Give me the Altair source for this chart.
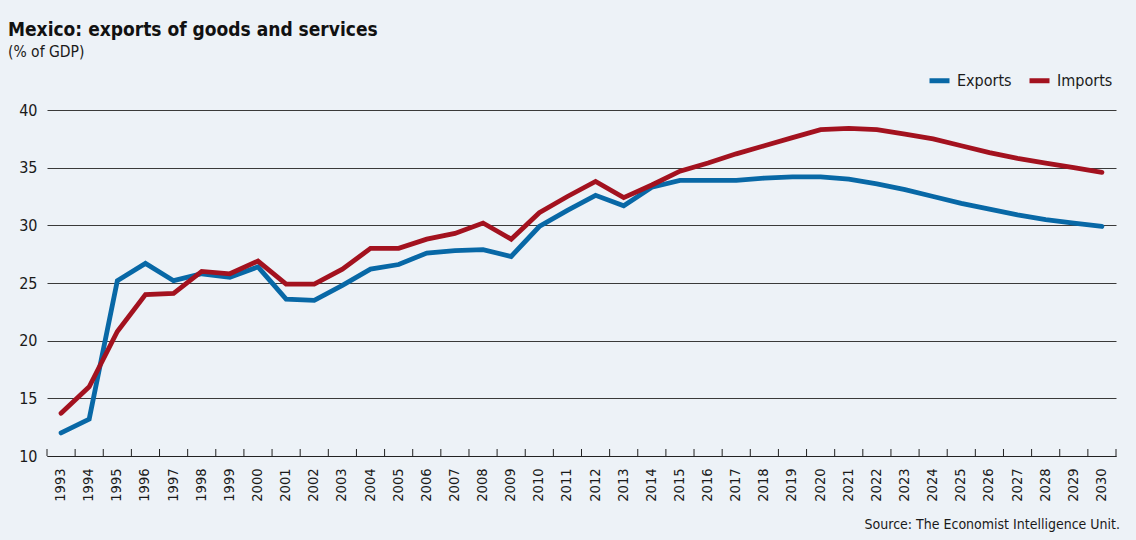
import altair as alt
import pandas as pd

years = list(range(1993, 2031))
exports = [12.0, 13.2, 25.2, 26.7, 25.2, 25.8, 25.5, 26.4, 23.6, 23.5,
           24.8, 26.2, 26.6, 27.6, 27.8, 27.9, 27.3, 29.9, 31.3, 32.6,
           31.7, 33.3, 33.9, 33.9, 33.9, 34.1, 34.2, 34.2, 34.0, 33.6,
           33.1, 32.5, 31.9, 31.4, 30.9, 30.5, 30.2, 29.9]
imports = [13.7, 16.0, 20.8, 24.0, 24.1, 26.0, 25.8, 26.9, 24.9, 24.9,
           26.2, 28.0, 28.0, 28.8, 29.3, 30.2, 28.8, 31.1, 32.5, 33.8,
           32.4, 33.5, 34.7, 35.4, 36.2, 36.9, 37.6, 38.3, 38.4, 38.3,
           37.9, 37.5, 36.9, 36.3, 35.8, 35.4, 35.0, 34.6]
series_names = ["Exports", "Imports"]
series_colors = ["#0868a6", "#a3121f"]
y_ticks = [10, 15, 20, 25, 30, 35, 40]

FONT = "DejaVu Sans Condensed, sans-serif"
W, H = 1069, 346

df = pd.DataFrame({
    "year": years * 2,
    "value": exports + imports,
    "series": ["Exports"] * len(years) + ["Imports"] * len(years),
})
ticks_df = pd.DataFrame({"year": years})
src_df = pd.DataFrame({"t": ["Source: The Economist Intelligence Unit."]})

x_scale = alt.Scale(type="band", paddingInner=0, paddingOuter=0)
y_scale = alt.Scale(domain=[10, 40], nice=False, zero=False)

lines = alt.Chart(df).mark_line(strokeWidth=4.8, strokeCap="round").encode(
    x=alt.X("year:O", scale=x_scale, title=None,
            axis=alt.Axis(labelAngle=270, labelFontSize=14.5, labelPadding=12,
                          ticks=False, domainColor="#222222", domainWidth=1,
                          labelColor="#1a1a1a", labelFont=FONT, grid=False)),
    y=alt.Y("value:Q", scale=y_scale, title=None,
            axis=alt.Axis(values=y_ticks, labelFontSize=16, labelPadding=10,
                          ticks=False, domain=False, grid=True,
                          gridColor="#3a3a3a", gridWidth=1,
                          labelColor="#1a1a1a", labelFont=FONT)),
    color=alt.Color("series:N",
                    scale=alt.Scale(domain=series_names, range=series_colors),
                    legend=alt.Legend(orient="none", legendX=880, legendY=-42,
                                      direction="horizontal", title=None,
                                      symbolType="stroke", symbolStrokeWidth=5,
                                      symbolSize=400, labelFontSize=16,
                                      labelFont=FONT, labelColor="#1a1a1a",
                                      labelOffset=5, columnPadding=7)),
)

tick_rules = alt.Chart(ticks_df).mark_rule(color="#222222", strokeWidth=1).encode(
    x=alt.X("year:O", scale=x_scale, bandPosition=0),
    y=alt.value(H),
    y2=alt.value(H - 7),
)
end_tick = alt.Chart(src_df).mark_rule(color="#222222", strokeWidth=1).encode(
    x=alt.value(W), y=alt.value(H), y2=alt.value(H - 7)
)

source = alt.Chart(src_df).mark_text(
    align="right", baseline="middle", fontSize=14, font=FONT, color="#1a1a1a"
).encode(text="t:N", x=alt.value(W + 4), y=alt.value(415))

chart = alt.layer(tick_rules, end_tick, lines, source).properties(
    width=W, height=H,
    autosize=alt.AutoSizeParams(type="none"),
    padding={"left": 47, "top": 110, "right": 20, "bottom": 84},
    background="#edf2f7",
    title=alt.TitleParams(
        text="Mexico: exports of goods and services",
        subtitle="(% of GDP)",
        anchor="start", frame="group", dx=-39, offset=8,
        font=FONT, fontSize=19, fontWeight="bold", color="#111111",
        subtitleFont=FONT, subtitleFontSize=15.5, subtitleColor="#1a1a1a",
        subtitlePadding=5,
    ),
).configure_view(stroke=None)

chart.save("out.html", embed_options={"renderer": "svg", "actions": False})
